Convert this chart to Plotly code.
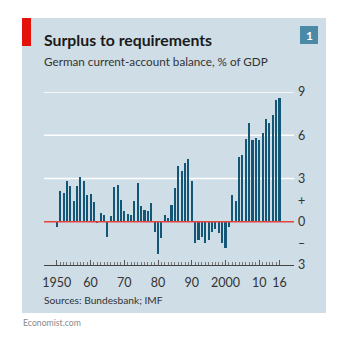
import plotly.graph_objects as go

# German current-account balance, % of GDP
years = list(range(1950, 2017))
balance = [
    -0.33, 2.1, 2.0, 2.86, 2.5, 1.46, 2.46, 3.07, 2.8, 1.88,    # 1950s
    1.95, 1.34, -0.1, 0.6, 0.45, -1.04, 0.37, 2.38, 2.52, 1.5,  # 1960s
    0.72, 0.53, 0.44, 1.42, 2.67, 1.12, 0.84, 0.77, 1.31, -0.74,  # 1970s
    -2.22, -1.15, 0.45, 0.25, 1.18, 2.37, 3.85, 3.55, 4.06, 4.38,  # 1980s
    2.8, -1.48, -1.24, -1.05, -1.5, -1.29, -0.69, -0.52, -0.75, -1.44,  # 1990s
    -1.79, -0.38, 1.89, 1.42, 4.5, 4.64, 5.76, 6.85, 5.66, 5.83,  # 2000s
    5.69, 6.19, 7.1, 6.85, 7.4, 8.45, 8.61,                     # 2010s
]

x_tickvals = [1950, 1960, 1970, 1980, 1990, 2000, 2010, 2016]
x_ticktext = ["1950", "60", "70", "80", "90", "2000", "10", "16"]
y_tickvals = [9, 6, 3, 1.5, 0, -1.5, -3]
y_ticktext = ["9", "6", "3", "+", "0", "\u2013", "3"]
grid_vals = [3, 6, 9]

W, H = 350, 349
L, R, T, B = 44, 294, 92, 265
PW, PH = R - L, B - T

def px(x):
    return (x - L) / PW

def py(y):
    return (B - y) / PH

PANEL = "#cedde6"
BAR = "#135676"
FONT = "Lato"

fig = go.Figure(
    go.Bar(
        x=years, y=balance, width=0.62,
        marker=dict(color=BAR, line=dict(width=0)),
    )
)

shapes = [
    # background panel
    dict(type="rect", xref="paper", yref="paper", x0=px(22), x1=px(326),
         y0=py(18), y1=py(313), fillcolor=PANEL, line=dict(width=0), layer="below"),
    # red tag
    dict(type="rect", xref="paper", yref="paper", x0=px(22), x1=px(31),
         y0=py(18), y1=py(46), fillcolor="#e3120b", line=dict(width=0), layer="below"),
    # chart number box
    dict(type="rect", xref="paper", yref="paper", x0=px(300), x1=px(318),
         y0=py(26), y1=py(44), fillcolor="#4b8aa7", line=dict(width=0), layer="below"),
]
for g in grid_vals:
    shapes.append(dict(type="line", xref="paper", yref="y", x0=0, x1=1, y0=g, y1=g,
                       line=dict(color="white", width=1.3), layer="below"))
shapes.append(dict(type="line", xref="paper", yref="y", x0=0, x1=1, y0=0, y1=0,
                   line=dict(color="#e3433d", width=1.3), layer="above"))

annotations = [
    dict(text="<b>Surplus to requirements</b>", x=px(42), y=py(40), xref="paper", yref="paper",
         xanchor="left", yanchor="middle", showarrow=False,
         font=dict(family=FONT, size=15.8, color="#1a1a1a")),
    dict(text="German current-account balance, % of GDP", x=px(42), y=py(61),
         xref="paper", yref="paper", xanchor="left", yanchor="middle", showarrow=False,
         font=dict(family=FONT, size=11.7, color="#333333")),
    dict(text="<b>1</b>", x=px(309), y=py(35), xref="paper", yref="paper",
         xanchor="center", yanchor="middle", showarrow=False,
         font=dict(family=FONT, size=12, color="white")),
    dict(text="Sources: Bundesbank; IMF", x=px(42), y=py(300), xref="paper", yref="paper",
         xanchor="left", yanchor="middle", showarrow=False,
         font=dict(family=FONT, size=10.2, color="#333333")),
    dict(text="Economist.com", x=px(21), y=py(322), xref="paper", yref="paper",
         xanchor="left", yanchor="middle", showarrow=False,
         font=dict(family=FONT, size=8.7, color="#8a8a8a")),
]

fig.update_layout(
    width=W, height=H, autosize=False,
    margin=dict(l=L, r=W - R, t=T, b=H - B, pad=0),
    paper_bgcolor="white", plot_bgcolor="rgba(0,0,0,0)",
    showlegend=False, bargap=0,
    shapes=shapes, annotations=annotations,
    xaxis=dict(
        range=[1946.2, 2020.3], tickvals=x_tickvals, ticktext=x_ticktext,
        ticks="inside", ticklen=5, tickwidth=1, tickcolor="#555555",
        showline=True, linecolor="#444444", linewidth=1,
        showgrid=False, zeroline=False, ticklabelstandoff=6,
        tickfont=dict(family=FONT, size=12.5, color="#333333"),
        minor=dict(tickvals=years, ticks="inside", ticklen=3, tickwidth=1,
                   tickcolor="#777777", showgrid=False),
    ),
    yaxis=dict(
        range=[-3, 9], side="right", tickvals=y_tickvals, ticktext=y_ticktext,
        ticks="", showgrid=False, zeroline=False, showline=False,
        ticklabelstandoff=3,
        tickfont=dict(family=FONT, size=12.5, color="#333333"),
    ),
)

fig.write_html("out.html")
